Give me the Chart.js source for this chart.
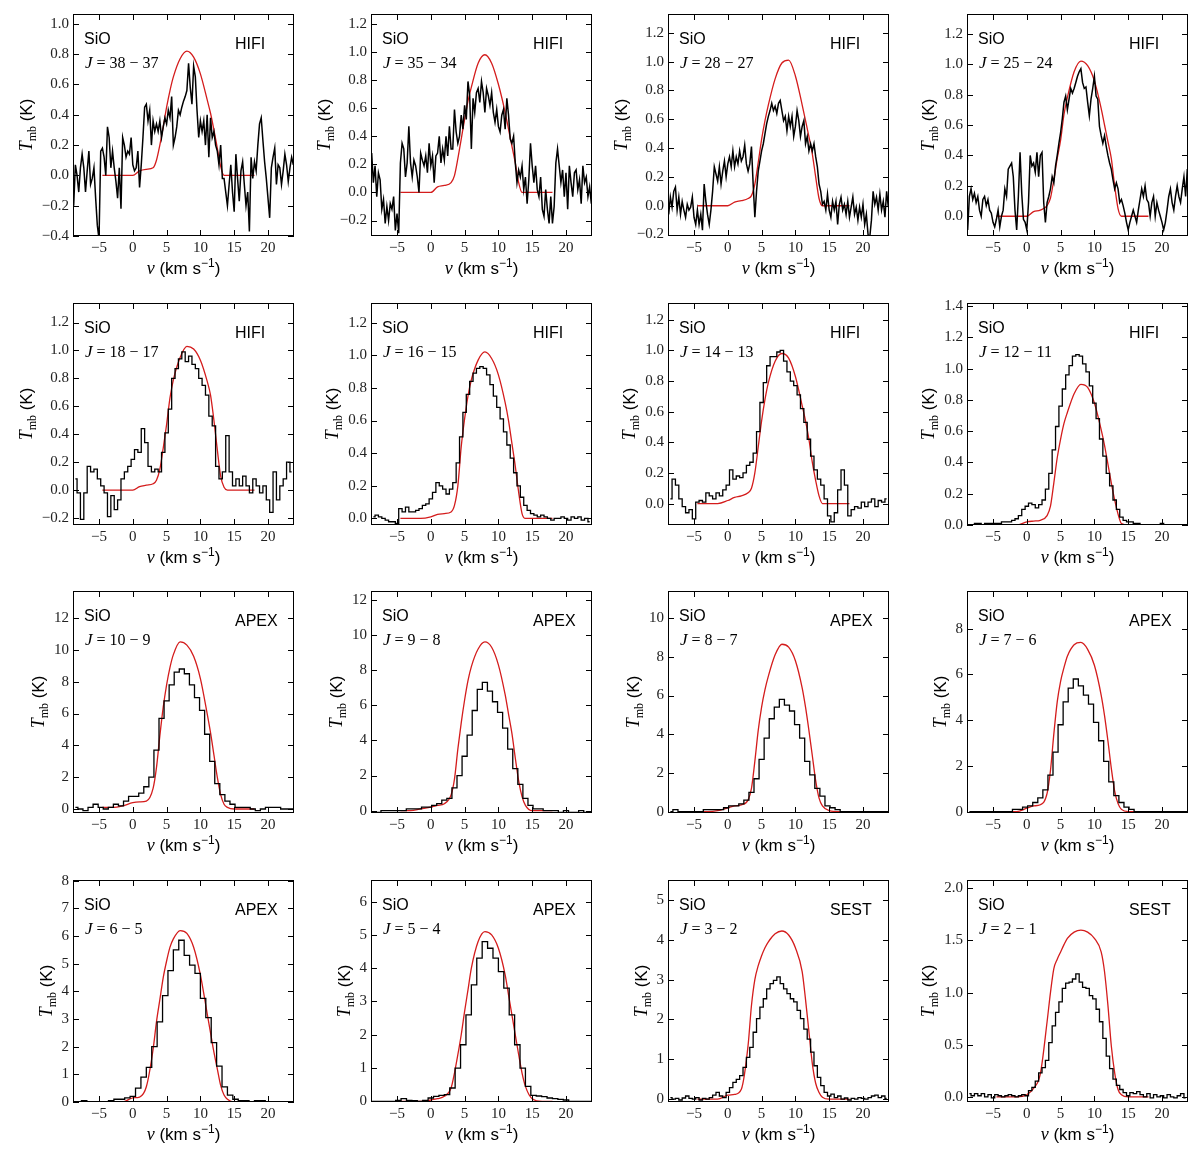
<!DOCTYPE html>
<html>
<head>
<meta charset="utf-8">
<script src="https://cdn.jsdelivr.net/npm/chart.js@4.4.0/dist/chart.umd.min.js"></script>
<style>
body{margin:0;background:#fff;overflow:hidden}
#fig{position:relative;width:1200px;height:1161px;background:#fff}
#fig canvas{position:absolute}
</style>
</head>
<body>
<div id="fig"></div>
<script>
// velocity grids (km/s)
var vHi = [-8.75,-8.5,-8.25,-8,-7.75,-7.5,-7.25,-7,-6.75,-6.5,-6.25,-6,-5.75,-5.5,-5.25,-5,-4.75,-4.5,-4.25,-4,-3.75,-3.5,-3.25,-3,-2.75,-2.5,-2.25,-2,-1.75,-1.5,-1.25,-1,-0.75,-0.5,-0.25,0,0.25,0.5,0.75,1,1.25,1.5,1.75,2,2.25,2.5,2.75,3,3.25,3.5,3.75,4,4.25,4.5,4.75,5,5.25,5.5,5.75,6,6.25,6.5,6.75,7,7.25,7.5,7.75,8,8.25,8.5,8.75,9,9.25,9.5,9.75,10,10.25,10.5,10.75,11,11.25,11.5,11.75,12,12.25,12.5,12.75,13,13.25,13.5,13.75,14,14.25,14.5,14.75,15,15.25,15.5,15.75,16,16.25,16.5,16.75,17,17.25,17.5,17.75,18,18.25,18.5,18.75,19,19.25,19.5,19.75,20,20.25,20.5,20.75,21,21.25,21.5,21.75,22,22.25,22.5,22.75,23,23.25,23.5,23.75];
var vMid = [-8.5,-8,-7.5,-7,-6.5,-6,-5.5,-5,-4.5,-4,-3.5,-3,-2.5,-2,-1.5,-1,-0.5,0,0.5,1,1.5,2,2.5,3,3.5,4,4.5,5,5.5,6,6.5,7,7.5,8,8.5,9,9.5,10,10.5,11,11.5,12,12.5,13,13.5,14,14.5,15,15.5,16,16.5,17,17.5,18,18.5,19,19.5,20,20.5,21,21.5,22,22.5,23,23.5];
var vApex3 = [-8.5,-7.75,-7,-6.25,-5.5,-4.75,-4,-3.25,-2.5,-1.75,-1,-0.25,0.5,1.25,2,2.75,3.5,4.25,5,5.75,6.5,7.25,8,8.75,9.5,10.25,11,11.75,12.5,13.25,14,14.75,15.5,16.25,17,17.75,18.5,19.25,20,20.75,21.5,22.25,23,23.75];
var vApex4 = [-8.8,-8,-7.2,-6.4,-5.6,-4.8,-4,-3.2,-2.4,-1.6,-0.8,0,0.8,1.6,2.4,3.2,4,4.8,5.6,6.4,7.2,8,8.8,9.6,10.4,11.2,12,12.8,13.6,14.4,15.2,16,16.8,17.6,18.4,19.2,20,20.8,21.6,22.4,23.2,24];
var vMod = [-4.5,-3,-1.5,0,1,2,3,3.5,4,4.5,5,5.5,6,7,8,9,10,11,11.5,12,12.5,13,13.5,14,15,16.5,18];

// observed spectra, Tmb (K)
var obs38 = [-0.20,0.07,0.00,-0.11,0.05,0.14,0.05,-0.11,0.03,0.16,-0.06,-0.02,0.05,-0.15,-0.33,-0.42,0.16,0.18,0.12,0.00,0.32,0.25,0.05,0.16,0.05,-0.04,-0.15,0.05,-0.22,0.25,0.20,0.12,0.16,0.14,0.25,0.07,0.03,0.05,0.16,-0.08,0.07,0.25,0.45,0.47,0.36,0.43,0.20,0.36,0.29,0.34,0.29,0.36,0.25,0.32,0.38,0.34,0.43,0.38,0.52,0.20,0.25,0.32,0.43,0.40,0.45,0.49,0.52,0.56,0.74,0.58,0.47,0.72,0.65,0.43,0.25,0.36,0.29,0.36,0.20,0.40,0.12,0.38,0.25,0.29,0.20,0.16,0.07,0.20,-0.02,-0.02,-0.11,-0.20,-0.06,0.07,-0.11,-0.24,0.14,-0.02,-0.17,0.03,0.09,-0.06,-0.20,-0.11,-0.37,0.12,-0.02,0.09,0.03,0.20,0.34,0.38,0.23,0.09,-0.02,-0.15,-0.28,0.05,0.12,0.18,-0.06,0.07,0.05,-0.06,0.03,0.14,0.07,-0.04,0.05,0.12,0.07];
var obs35 = [0.28,0.07,0.19,-0.03,0.14,0.09,-0.12,-0.05,-0.22,-0.10,-0.20,-0.08,-0.12,-0.03,-0.27,-0.15,-0.29,0.21,0.35,0.31,0.11,0.21,0.47,0.21,0.11,0.23,0.19,0.11,0.00,0.28,0.23,0.19,0.26,0.14,0.35,0.19,0.26,0.07,0.26,0.28,0.40,0.21,0.31,0.23,0.40,0.26,0.47,0.31,0.31,0.59,0.43,0.35,0.40,0.55,0.45,0.62,0.52,0.79,0.69,0.31,0.67,0.57,0.71,0.74,0.64,0.79,0.71,0.57,0.74,0.69,0.62,0.71,0.57,0.50,0.59,0.47,0.43,0.55,0.59,0.45,0.67,0.55,0.38,0.35,0.40,0.21,0.07,0.16,0.11,0.19,0.02,0.11,-0.08,0.09,0.35,0.19,0.07,0.19,0.02,-0.03,0.11,-0.12,-0.17,0.02,-0.12,-0.22,-0.03,-0.22,-0.10,0.21,0.31,0.19,0.07,0.16,-0.03,0.14,-0.12,0.19,0.07,-0.03,0.14,0.16,0.02,0.09,-0.08,0.19,0.07,0.11,-0.03,0.04,-0.08];
var obs28 = [-0.06,0.06,-0.01,0.10,0.13,-0.03,0.06,-0.06,0.03,-0.03,-0.08,0.01,-0.03,-0.01,0.06,-0.08,-0.13,-0.03,-0.13,-0.06,-0.17,0.15,0.03,-0.06,-0.13,-0.03,0.10,0.27,0.22,0.17,0.27,0.15,0.24,0.31,0.20,0.29,0.34,0.27,0.38,0.27,0.34,0.29,0.38,0.31,0.34,0.42,0.29,0.24,0.29,0.41,0.15,-0.08,0.10,0.24,0.31,0.38,0.43,0.50,0.57,0.62,0.66,0.71,0.66,0.69,0.64,0.71,0.73,0.66,0.59,0.62,0.52,0.62,0.55,0.62,0.48,0.55,0.66,0.59,0.48,0.55,0.59,0.43,0.48,0.38,0.43,0.38,0.43,0.34,0.27,0.15,0.10,0.01,0.03,-0.03,0.08,-0.03,-0.08,0.03,-0.03,0.03,-0.13,0.01,0.06,-0.03,0.01,-0.06,0.03,-0.08,-0.01,0.06,-0.06,-0.01,-0.10,-0.01,-0.08,0.01,-0.13,-0.06,-0.20,-0.22,-0.10,0.10,0.01,0.06,-0.03,0.08,-0.03,0.03,-0.08,0.10,-0.01];
var obs25 = [-0.09,0.13,0.18,0.11,0.15,0.09,0.13,0.04,0.00,0.11,0.13,0.07,0.11,0.04,0.02,-0.04,-0.07,-0.02,0.04,-0.07,0.00,0.04,0.18,0.13,0.31,0.33,0.35,0.26,0.04,-0.09,0.13,0.42,0.15,-0.02,-0.04,-0.09,0.09,0.40,0.33,0.35,0.29,0.42,0.26,0.40,0.42,0.09,-0.04,0.09,0.13,0.18,0.26,0.22,0.33,0.40,0.48,0.55,0.64,0.75,0.79,0.70,0.77,0.84,0.81,0.84,0.88,0.92,0.95,0.97,0.88,0.84,0.85,0.75,0.66,0.77,0.84,0.92,0.79,0.77,0.59,0.53,0.48,0.53,0.46,0.40,0.35,0.31,0.24,0.18,0.22,0.18,0.09,0.11,0.07,0.02,-0.04,-0.09,-0.04,0.00,0.04,0.00,-0.04,0.04,0.11,0.18,0.13,0.20,0.11,0.09,0.00,0.09,0.13,0.00,0.09,0.04,0.00,-0.04,-0.09,-0.04,0.04,0.13,0.18,0.09,0.04,0.13,0.20,0.13,0.09,0.18,0.26,0.13,0.31];
var obs18 = [0.08,-0.02,-0.21,-0.02,0.17,0.13,0.15,0.08,0.03,-0.02,-0.19,-0.04,-0.14,-0.07,0.08,0.13,0.17,0.22,0.29,0.27,0.44,0.34,0.17,0.13,0.15,0.13,0.27,0.41,0.58,0.80,0.87,0.94,0.99,0.92,0.96,0.90,0.87,0.80,0.75,0.68,0.53,0.46,0.17,0.08,0.13,0.39,0.13,0.03,0.08,0.03,0.10,0.03,-0.02,0.08,0.03,-0.02,0.03,-0.07,-0.16,0.13,-0.07,0.03,0.08,0.20,0.13];
var obs16 = [0.01,0.02,0.01,0.00,-0.01,-0.02,-0.02,-0.03,0.06,0.04,0.07,0.04,0.04,0.05,0.06,0.08,0.09,0.12,0.16,0.22,0.20,0.18,0.15,0.18,0.22,0.34,0.50,0.65,0.76,0.84,0.89,0.92,0.93,0.92,0.88,0.82,0.75,0.68,0.61,0.53,0.45,0.37,0.28,0.20,0.13,0.08,0.05,0.03,0.02,0.01,0.02,0.01,0.00,-0.01,0.00,0.00,0.01,0.00,-0.01,0.01,0.00,0.01,-0.01,0.00,-0.02];
var obs14 = [0.03,0.16,0.12,0.03,-0.02,-0.06,-0.04,-0.10,0.01,0.02,0.01,0.07,0.05,0.03,0.07,0.05,0.09,0.12,0.22,0.16,0.18,0.17,0.20,0.25,0.27,0.33,0.47,0.66,0.79,0.90,0.96,0.96,0.99,1.00,0.93,0.86,0.80,0.77,0.71,0.62,0.53,0.42,0.31,0.22,0.16,0.12,0.03,-0.08,-0.12,-0.06,0.09,0.22,0.12,-0.08,-0.04,-0.02,-0.03,0.01,-0.02,0.01,0.03,-0.02,0.02,0.01,0.03];
var obs12 = [0.00,0.00,0.01,0.01,0.00,0.01,0.01,0.01,0.01,0.01,0.02,0.02,0.02,0.03,0.04,0.06,0.10,0.12,0.14,0.13,0.11,0.13,0.16,0.23,0.33,0.48,0.63,0.76,0.87,0.96,1.02,1.08,1.09,1.08,1.03,0.98,0.89,0.78,0.68,0.55,0.44,0.33,0.25,0.16,0.10,0.05,0.03,0.02,0.02,0.01,0.01,0.00,0.00,0.00,0.00,0.00,0.00,0.01,0.00,0.00,0.00,0.00,0.00,0.00,0.00];
var obs10 = [0.1,0.0,-0.1,0.1,0.3,0.1,0.0,0.1,0.3,0.2,0.5,0.8,0.8,1.0,1.4,2.0,3.7,5.7,6.8,7.8,8.6,8.8,8.5,7.8,7.0,6.2,4.7,3.0,1.6,0.9,0.5,0.3,0.1,0.1,0.1,0.0,-0.1,0.0,0.1,0.1,0.1,0.0,0.0,0.0];
var obs9 = [-0.1,-0.1,0.0,0.0,0.0,0.0,0.0,0.1,0.1,0.1,0.2,0.2,0.3,0.4,0.6,0.7,1.3,2.0,3.1,4.3,5.7,6.9,7.3,6.8,6.2,5.6,4.7,3.5,2.4,1.5,0.7,0.3,0.1,0.1,0.0,0.0,0.0,-0.1,0.0,-0.1,-0.1,0.0,-0.1,-0.1];
var obs8 = [0.0,0.1,0.0,0.0,0.0,0.0,0.0,0.1,0.1,0.1,0.1,0.2,0.3,0.3,0.4,0.6,1.0,1.7,2.7,3.8,4.8,5.4,5.8,5.5,5.2,4.5,3.8,2.6,1.9,1.2,0.8,0.3,0.2,0.1,0.0,0.0,0.0,0.0,0.0,0.0,0.0,0.0,0.0,0.0];
var obs7 = [0.0,0.0,0.0,0.0,0.0,0.0,0.0,0.0,0.0,0.1,0.1,0.2,0.25,0.4,0.6,0.95,1.6,2.6,3.8,4.8,5.4,5.8,5.5,5.1,4.7,3.9,3.1,2.2,1.3,0.7,0.4,0.2,0.1,0.0,0.0,0.0,0.0,0.0,0.0,0.0,0.0,0.0,0.0,0.0];
var obs6 = [0.0,0.0,0.05,0.0,0.0,0.0,0.0,0.05,0.1,0.1,0.15,0.2,0.5,0.9,1.25,2.0,2.9,3.85,4.75,5.5,5.85,5.3,4.95,4.65,3.75,3.05,2.15,1.3,0.55,0.25,0.1,0.05,0.05,0.0,0.05,0.05,0.0,0.0,0.0,0.0,0.0,0.0];
var obs5 = [0.0,0.0,0.0,0.0,0.0,0.03,0.08,0.03,0.02,0.0,0.03,0.1,0.15,0.18,0.2,0.4,1.0,1.7,2.6,3.5,4.3,4.8,4.6,4.3,3.9,3.4,2.6,1.7,1.0,0.45,0.18,0.16,0.14,0.1,0.08,0.06,0.04,0.0,0.0,0.0,0.0,0.0];
var obs3 = [0.04,0.0,0.02,-0.02,0.03,0.08,0.02,0.0,0.04,-0.02,0.02,0.0,0.04,0.1,0.17,0.08,0.04,0.17,0.29,0.42,0.5,0.59,0.8,1.05,1.3,1.68,2.02,2.31,2.52,2.77,2.9,2.98,3.07,2.9,2.77,2.65,2.52,2.44,2.23,2.02,1.76,1.51,1.18,0.84,0.55,0.34,0.17,0.08,0.13,0.04,0.08,0.0,0.03,-0.02,0.02,0.0,0.04,0.02,0.0,0.04,0.08,0.1,0.04,0.08,0.02];
var obs2 = [0.03,0.01,0.03,0.01,0.03,0.0,0.02,-0.01,0.02,0.01,0.0,0.01,0.02,0.01,0.0,0.01,0.02,0.01,0.06,0.09,0.15,0.23,0.28,0.35,0.52,0.68,0.81,0.91,1.04,1.09,1.10,1.13,1.18,1.10,1.05,1.04,0.97,0.94,0.84,0.72,0.56,0.39,0.27,0.17,0.11,0.07,0.04,0.01,0.04,0.03,0.05,0.02,0.0,0.03,-0.01,0.02,0.0,0.01,-0.01,0.02,0.0,-0.01,0.01,0.03,-0.01];

// model profiles on vMod, Tmb (K)
var mod38 = [0,0,0,0,0.03,0.04,0.05,0.1,0.2,0.32,0.45,0.56,0.65,0.77,0.82,0.78,0.67,0.5,0.41,0.3,0.18,0.06,0,0,0,0,0];
var mod35 = [0,0,0,0,0.04,0.05,0.07,0.12,0.24,0.38,0.52,0.65,0.75,0.92,0.98,0.92,0.77,0.57,0.45,0.33,0.21,0.07,0,0,0,0,0];
var mod28 = [0,0,0,0,0.025,0.035,0.05,0.07,0.15,0.3,0.46,0.59,0.7,0.88,0.99,1.01,0.9,0.7,0.59,0.48,0.36,0.2,0.05,0,0,0,0];
var mod25 = [0,0,0,0,0.03,0.04,0.07,0.12,0.24,0.38,0.5,0.67,0.78,0.95,1.02,0.99,0.89,0.71,0.6,0.49,0.38,0.2,0.05,0,0,0,0];
var mod18 = [0,0,0,0,0.025,0.035,0.045,0.07,0.15,0.3,0.47,0.66,0.79,0.95,1.03,1.01,0.93,0.78,0.68,0.5,0.29,0.1,0.02,0,0,0,0];
var mod16 = [0,0,0,0.01,0.025,0.03,0.04,0.08,0.2,0.44,0.61,0.75,0.85,0.97,1.02,0.98,0.88,0.71,0.6,0.46,0.32,0.16,0.03,0,0,0,0];
var mod14 = [0,0,0,0.02,0.04,0.05,0.07,0.1,0.2,0.37,0.54,0.68,0.79,0.93,0.98,0.95,0.83,0.64,0.54,0.42,0.27,0.15,0.05,0,0,0,0];
var mod12 = [0,0,0,0.02,0.025,0.03,0.06,0.12,0.27,0.43,0.55,0.65,0.72,0.84,0.9,0.88,0.78,0.61,0.51,0.39,0.27,0.16,0.07,0.01,0,0,0];
var mod10 = [0.1,0.1,0.2,0.4,0.45,0.5,1.3,2.6,4.6,6.4,7.8,8.9,9.7,10.5,10.3,9.6,8.2,6.0,4.8,3.4,2.0,0.9,0.3,0.1,0,0,0];
var mod9 = [0,0,0.1,0.2,0.3,0.4,0.9,1.8,3.5,5.0,6.3,7.4,8.2,9.2,9.6,9.3,8.3,6.6,5.5,4.4,3.0,1.7,0.8,0.3,0,0,0];
var mod8 = [0,0,0.05,0.2,0.3,0.35,0.6,1.2,2.6,4.2,5.4,6.3,7.0,8.1,8.65,8.5,7.8,6.4,5.4,4.2,2.9,1.6,0.7,0.3,0.05,0,0];
var mod7 = [0,0,0,0.15,0.25,0.3,0.8,1.8,3.4,4.8,5.7,6.3,6.8,7.3,7.4,7.1,6.4,5.1,4.2,3.1,1.9,0.9,0.35,0.1,0,0,0];
var mod6 = [0,0,0,0.15,0.18,0.55,1.9,2.9,3.7,4.5,5.1,5.6,5.9,6.2,6.1,5.6,4.6,3.2,2.5,1.8,1.2,0.6,0.25,0.1,0,0,0];
var mod5 = [0,0,0,0.04,0.08,0.15,0.4,0.85,1.4,2.0,2.7,3.35,4.0,4.8,5.1,5.0,4.6,3.8,3.2,2.6,2.0,1.4,0.85,0.45,0.08,0,0];
var mod3 = [0,0,0,0.1,0.12,0.25,1.35,2.35,3.0,3.35,3.6,3.8,3.95,4.15,4.22,4.12,3.8,3.2,2.5,1.7,0.9,0.4,0.17,0.05,0,0,0];
var mod2 = [0,0,0,0.02,0.08,0.22,0.72,1.0,1.23,1.32,1.39,1.46,1.52,1.58,1.6,1.58,1.52,1.39,1.2,0.88,0.49,0.23,0.07,0.02,0,0,0];

// transitions, telescopes, y ranges
var transitions = ['38 − 37','35 − 34','28 − 27','25 − 24','18 − 17','16 − 15','14 − 13','12 − 11','10 − 9','9 − 8','8 − 7','7 − 6','6 − 5','5 − 4','3 − 2','2 − 1'];
var telescopes = ['HIFI','HIFI','HIFI','HIFI','HIFI','HIFI','HIFI','HIFI','APEX','APEX','APEX','APEX','APEX','APEX','SEST','SEST'];
var yMin = [-0.4,-0.31,-0.21,-0.13,-0.25,-0.04,-0.14,0,-0.25,-0.13,-0.07,-0.06,0,-0.02,-0.07,-0.05];
var yMax = [1.065,1.27,1.33,1.33,1.34,1.32,1.31,1.42,13.7,12.5,11.4,9.65,8.03,6.65,5.5,2.08];
var yStep = [0.2,0.2,0.2,0.2,0.2,0.2,0.2,0.2,2,2,2,2,1,1,1,0.5];

var obsV = [vHi,vHi,vHi,vHi,vMid,vMid,vMid,vMid,vApex3,vApex3,vApex3,vApex3,vApex4,vApex4,vMid,vMid];
var obsT = [obs38,obs35,obs28,obs25,obs18,obs16,obs14,obs12,obs10,obs9,obs8,obs7,obs6,obs5,obs3,obs2];
var modT = [mod38,mod35,mod28,mod25,mod18,mod16,mod14,mod12,mod10,mod9,mod8,mod7,mod6,mod5,mod3,mod2];

var SERIF = '"Liberation Serif", "DejaVu Serif", serif';
var SANS = '"Liberation Sans", Arial, sans-serif';
var tickFont = {family: SERIF, size: 15};

function fmt(v, dec){
  if (Math.abs(v) < 1e-9) v = 0;
  return v.toFixed(dec).replace('-', '\u2212');
}

// draws text made of pieces (font changes, sub/superscripts), left edge at x
function pieces(ctx, parts, x, y){
  var w = 0;
  parts.forEach(function(p){ ctx.font = p.f; w += ctx.measureText(p.t).width; });
  if (x === null) x = -w / 2;
  parts.forEach(function(p){
    ctx.font = p.f;
    ctx.fillText(p.t, x, y + (p.dy || 0));
    x += ctx.measureText(p.t).width;
  });
}

var deco = {
  id: 'deco',
  afterDraw: function(chart){
    var o = chart.options.plugins.deco;
    var a = chart.chartArea, ctx = chart.ctx;
    var xs = chart.scales.x, ys = chart.scales.y;
    ctx.save();
    ctx.strokeStyle = '#000';
    ctx.lineWidth = 1;
    ctx.strokeRect(a.left + 0.5, a.top + 0.5, a.right - a.left - 1, a.bottom - a.top - 1);
    ctx.beginPath();
    xs.ticks.forEach(function(t){
      var x = Math.round(xs.getPixelForValue(t.value)) + 0.5;
      ctx.moveTo(x, a.bottom); ctx.lineTo(x, a.bottom - 6);
      ctx.moveTo(x, a.top); ctx.lineTo(x, a.top + 6);
    });
    ys.ticks.forEach(function(t){
      var y = Math.round(ys.getPixelForValue(t.value)) + 0.5;
      ctx.moveTo(a.left, y); ctx.lineTo(a.left + 6, y);
      ctx.moveTo(a.right, y); ctx.lineTo(a.right - 6, y);
    });
    ctx.stroke();

    ctx.fillStyle = '#000';
    ctx.textBaseline = 'alphabetic';
    // panel labels
    ctx.font = '16px ' + SANS;
    ctx.fillText('SiO', a.left + 11, a.top + 30);
    ctx.fillText(o.inst, a.left + 162, a.top + 35);
    pieces(ctx, [{t: 'J', f: 'italic 17px ' + SERIF}, {t: ' = ' + o.j, f: '16px ' + SERIF}], a.left + 12, a.top + 54);

    // x title
    ctx.save();
    ctx.translate((a.left + a.right) / 2, a.bottom + 38);
    pieces(ctx, [
      {t: 'v', f: 'italic 18px ' + SERIF},
      {t: ' (km s', f: '17px ' + SANS},
      {t: '\u22121', f: '12px ' + SANS, dy: -7},
      {t: ')', f: '17px ' + SANS}
    ], null, 0);
    ctx.restore();

    // y title, placed just left of the widest tick label
    ctx.font = '15px ' + SERIF;
    var w = 0;
    ys.ticks.forEach(function(t){ w = Math.max(w, ctx.measureText(t.label).width); });
    ctx.save();
    ctx.translate(a.left - w - 20, (a.top + a.bottom) / 2);
    ctx.rotate(-Math.PI / 2);
    pieces(ctx, [
      {t: 'T', f: 'italic 18px ' + SERIF},
      {t: 'mb', f: '12px ' + SERIF, dy: 4},
      {t: ' (K)', f: '17px ' + SANS}
    ], null, 6);
    ctx.restore();
    ctx.restore();
  }
};

var fig = document.getElementById('fig');
var colLeft = [0, 298, 595, 894];
var rowTop = [0, 289, 577, 866];

transitions.forEach(function(tr, i){
  var cv = document.createElement('canvas');
  cv.width = 298; cv.height = 289;
  cv.style.left = colLeft[i % 4] + 'px';
  cv.style.top = rowTop[Math.floor(i / 4)] + 'px';
  fig.appendChild(cv);
  var dec = (i >= 8 && i <= 14) ? 0 : 1;
  var noisy = i < 4;

  new Chart(cv, {
    type: 'line',
    data: {
      datasets: [
        {
          data: obsV[i].map(function(v, k){ return {x: v, y: obsT[i][k]}; }),
          borderColor: '#000', borderWidth: noisy ? 1.5 : 1.3, pointRadius: 0,
          stepped: noisy ? false : 'middle', fill: false
        },
        {
          data: vMod.map(function(v, k){ return {x: v, y: modT[i][k]}; }),
          borderColor: '#d41c1c', borderWidth: 1.3, pointRadius: 0, cubicInterpolationMode: 'monotone', fill: false
        }
      ]
    },
    options: {
      responsive: false, animation: false, events: [],
      layout: {padding: {top: 14, right: 4, left: 0, bottom: 0}},
      plugins: {legend: {display: false}, tooltip: {enabled: false}, deco: {inst: telescopes[i], j: tr}},
      scales: {
        x: {
          type: 'linear', min: -8.85, max: 23.85,
          grid: {display: false, drawTicks: false}, border: {display: false},
          ticks: {stepSize: 5, includeBounds: false, padding: 3, maxRotation: 0, font: tickFont, color: '#222',
                  callback: function(v){ return fmt(v, 0); }},
          afterFit: function(s){ s.height = 53; }
        },
        y: {
          min: yMin[i], max: yMax[i],
          grid: {display: false, drawTicks: false}, border: {display: false},
          ticks: {stepSize: yStep[i], includeBounds: false, padding: 4, font: tickFont, color: '#222',
                  callback: function(v){ return fmt(v, dec); }},
          afterFit: function(s){ s.width = 73; }
        }
      }
    },
    plugins: [deco]
  });
});
</script>
</body>
</html>
